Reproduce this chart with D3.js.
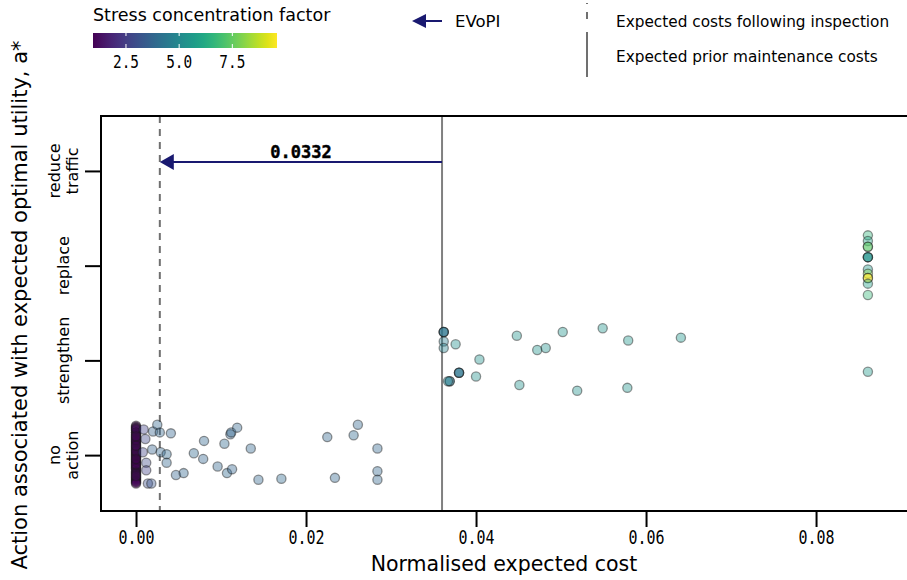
<!DOCTYPE html>
<html><head><meta charset="utf-8">
<script src="https://cdn.jsdelivr.net/npm/d3@7"></script>
<style>body{margin:0;background:#fff} svg{display:block}</style>
</head><body><svg id="c" width="907" height="580"></svg>
<script>
// ---------- data ----------
const categories = [["no","action"],["strengthen"],["replace"],["reduce","traffic"]];
const xTicks = [0, 0.02, 0.04, 0.06, 0.08];
const xTickLabels = ["0.00","0.02","0.04","0.06","0.08"];
const scfTicks = [2.5, 5.0, 7.5];
const scfTickLabels = ["2.5","5.0","7.5"];
const scfRange = [0.95, 9.6];
const priorCost = 0.0360;    // expected prior maintenance costs
const postCost = 0.0028;     // expected costs following inspection
const evopiLabel = "0.0332";
const evopiLevel = 3.095;

// "no action" – dense column at zero cost
const zeroJitter = [0.31,0.30,0.29,0.27,0.26,0.24,0.24,0.22,0.21,0.19,0.18,0.17,0.15,0.14,0.13,0.12,0.11,0.09,0.08,0.07,0.06,0.05,0.03,0.02,0.01,0.00,-0.01,-0.02,-0.03,-0.05,-0.06,-0.07,-0.08,-0.09,-0.11,-0.12,-0.13,-0.14,-0.15,-0.17,-0.18,-0.19,-0.20,-0.21,-0.23,-0.24,-0.25,-0.26,-0.27,-0.28,-0.29,-0.30,0.28,0.16,0.04,-0.10,-0.22,0.10,-0.04,0.20];
const zeroScf    = [1.1,1.0,1.2,1.0,1.3,1.1,1.0,1.2,1.1,1.4,1.0,1.1,1.2,1.0,1.3,1.1,1.0,1.2,1.1,1.0,1.3,1.2,1.0,1.1,1.2,1.0,1.4,1.1,1.0,1.2,1.1,1.0,1.2,1.1,1.0,1.3,1.1,1.0,1.2,1.1,1.0,1.2,1.3,1.0,1.1,1.0,1.2,1.1,1.0,1.3,1.1,1.0,1.2,1.0,1.1,1.0,1.2,1.1,1.0,1.1];

// "no action" – scattered
const noActCost   = [0.0009,0.0011,0.0008,0.0012,0.0012,0.0014,0.0018,0.0020,0.0025,0.0028,0.0041,0.0019,0.0029,0.0036,0.0036,0.0047,0.0056,0.0068,0.0080,0.0079,0.0096,0.0104,0.0111,0.0112,0.0119,0.0107,0.0113,0.0135,0.0144,0.0171,0.0225,0.0234,0.0256,0.0261,0.0284,0.0284,0.0284];
const noActJitter = [0.27,0.17,0.03,-0.08,-0.16,-0.30,-0.30,0.25,0.32,0.24,0.23,0.06,0.03,0.01,-0.08,-0.21,-0.19,0.02,0.15,-0.04,-0.12,0.12,0.22,0.24,0.29,-0.19,-0.15,0.07,-0.26,-0.25,0.19,-0.24,0.21,0.32,0.07,-0.17,-0.26];
const noActScf    = [2.6,2.8,2.7,2.9,2.6,3.0,3.2,3.6,3.8,3.8,3.7,3.6,3.8,3.9,3.8,3.7,3.8,3.9,3.8,3.7,3.8,3.9,3.7,3.8,3.8,3.9,3.7,3.8,3.8,3.9,3.8,3.8,3.9,3.8,3.8,3.8,3.8];

// "strengthen"
const strCost   = [0.0362,0.0362,0.0362,0.0362,0.0362,0.0376,0.0404,0.0380,0.0380,0.0380,0.0369,0.0369,0.0367,0.0400,0.0448,0.0451,0.0472,0.0482,0.0502,0.0519,0.0549,0.0579,0.0578,0.0641,0.0861];
const strJitter = [0.30,0.30,0.30,0.20,0.13,0.17,0.01,-0.13,-0.13,-0.13,-0.22,-0.22,-0.22,-0.17,0.26,-0.26,0.11,0.13,0.30,-0.32,0.34,0.21,-0.29,0.24,-0.12];
const strScf    = [4.3,4.2,4.4,4.6,4.8,5.2,5.3,4.3,4.4,4.2,4.3,4.4,4.9,5.3,5.4,5.3,5.4,5.3,5.4,5.3,5.4,5.5,5.4,5.5,5.6];

// "replace"
const repCost   = [0.0861,0.0861,0.0861,0.0861,0.0861,0.0861,0.0861,0.0861,0.0861,0.0861,0.0861,0.0861,0.0861];
const repJitter = [0.32,0.26,0.20,0.20,0.09,0.09,0.09,-0.04,-0.085,-0.13,-0.13,-0.19,-0.31];
const repScf    = [6.6,6.0,7.5,7.3,5.4,5.6,5.2,5.6,8.0,9.6,9.4,5.9,6.7];

// ---------- layout ----------
const svg = d3.select("#c");
const L = 101, R = 907, T = 116, B = 511;
const font = "'DejaVu Sans', sans-serif";
const mono = "'DejaVu Sans Mono', monospace";
const navy = "#191970";

const x = d3.scaleLinear().domain([-0.00412, 0.09070]).range([L, R]);
const y = d3.scaleLinear().domain([-0.59, 3.58]).range([B, T]);
const color = d3.scaleSequential(d3.interpolateViridis).domain(scfRange);

// points
const pts = [];
zeroJitter.forEach((j,i)=>pts.push({c:0, a:0, j, s:zeroScf[i]}));
noActCost.forEach((c,i)=>pts.push({c, a:0, j:noActJitter[i], s:noActScf[i]}));
strCost.forEach((c,i)=>pts.push({c, a:1, j:strJitter[i], s:strScf[i]}));
repCost.forEach((c,i)=>pts.push({c, a:2, j:repJitter[i], s:repScf[i]}));

// reference lines
svg.append("line").attr("x1",x(postCost)).attr("x2",x(postCost)).attr("y1",T).attr("y2",B)
  .attr("stroke","#707070").attr("stroke-width",2).attr("stroke-dasharray","7,6");
svg.append("line").attr("x1",x(priorCost)).attr("x2",x(priorCost)).attr("y1",T).attr("y2",B)
  .attr("stroke","#808080").attr("stroke-width",2);

// scatter
svg.append("g").selectAll("circle").data(pts).join("circle")
  .attr("cx",d=>x(d.c)).attr("cy",d=>y(d.a+d.j)).attr("r",4.6)
  .attr("fill",d=>color(d.s)).attr("fill-opacity",0.4)
  .attr("stroke","#1a1a1a").attr("stroke-opacity",0.45).attr("stroke-width",1.3);

// EVoPI arrow
function arrow(g, x0, x1, yy, hl, hw, sw){
  g.append("line").attr("x1",x0).attr("x2",x1+hl-1).attr("y1",yy).attr("y2",yy)
    .attr("stroke",navy).attr("stroke-width",sw);
  g.append("path").attr("d",`M${x1},${yy}L${x1+hl},${yy-hw}L${x1+hl},${yy+hw}Z`).attr("fill",navy);
}
arrow(svg, x(priorCost), x(postCost), y(evopiLevel), 14, 8, 2);
svg.append("text").attr("x",(x(priorCost)+x(postCost))/2).attr("y",y(evopiLevel)-4)
  .attr("text-anchor","middle").attr("font-family",mono).attr("font-weight","bold")
  .attr("font-size",17).attr("fill","#000").attr("stroke","#000").attr("stroke-width",0.4)
  .text(evopiLabel);

// spines
svg.append("path").attr("d",`M${R+2},${T}H${L}V${B}H${R+2}`).attr("fill","none")
  .attr("stroke","#000").attr("stroke-width",2);

// x axis
const xa = svg.append("g").attr("transform",`translate(0,${B})`)
  .call(d3.axisBottom(x).tickValues(xTicks).tickSize(16).tickFormat((d,i)=>xTickLabels[i]));
xa.select(".domain").remove();
xa.selectAll(".tick line").attr("stroke","#000").attr("stroke-width",2);
xa.selectAll(".tick text").attr("font-family",mono).attr("font-size",20).attr("fill","#000")
  .attr("y",18).attr("dy","0.75em").attr("transform","scale(0.75,1)");
svg.append("text").attr("x",(L+R)/2).attr("y",571).attr("text-anchor","middle")
  .attr("font-family",font).attr("font-size",20.5).text("Normalised expected cost");

// y axis
const ya = svg.append("g").attr("transform",`translate(${L},0)`)
  .call(d3.axisLeft(y).tickValues([0,1,2,3]).tickSize(16).tickFormat(""));
ya.select(".domain").remove();
ya.selectAll(".tick line").attr("stroke","#000").attr("stroke-width",2);
categories.forEach((lines,i)=>{
  const t = svg.append("text").attr("transform",`translate(63,${y(i)}) rotate(-90)`)
    .attr("text-anchor","middle").attr("font-family",font).attr("font-size",16);
  const n = lines.length;
  lines.forEach((s,k)=>t.append("tspan").attr("x",0)
    .attr("y", (k-(n-1)/2)*18).attr("dy","0.35em").text(s));
});
svg.append("text").attr("transform",`translate(27,305) rotate(-90)`).attr("text-anchor","middle")
  .attr("font-family",font).attr("font-size",21).text("Action associated with expected optimal utility, a*");

// colour bar
const cbL = 93, cbR = 277, cbT = 33, cbB = 48;
const cx = d3.scaleLinear().domain(scfRange).range([cbL, cbR]);
const grad = svg.append("defs").append("linearGradient").attr("id","vir");
d3.range(0,1.0001,0.05).forEach(t=>grad.append("stop").attr("offset",t).attr("stop-color",d3.interpolateViridis(t)));
svg.append("rect").attr("x",cbL).attr("y",cbT).attr("width",cbR-cbL).attr("height",cbB-cbT).attr("fill","url(#vir)");
scfTicks.forEach((v,i)=>{
  svg.append("line").attr("x1",cx(v)).attr("x2",cx(v)).attr("y1",cbT).attr("y2",cbT+3).attr("stroke","#fff").attr("stroke-width",1);
  svg.append("line").attr("x1",cx(v)).attr("x2",cx(v)).attr("y1",cbB-4).attr("y2",cbB).attr("stroke","#fff").attr("stroke-width",1);
  svg.append("text").attr("transform",`translate(${cx(v)},68) scale(0.8,1)`).attr("text-anchor","middle")
    .attr("font-family",mono).attr("font-size",18).text(scfTickLabels[i]);
});
svg.append("text").attr("x",cbL).attr("y",21).attr("font-family",font).attr("font-size",17.5).text("Stress concentration factor");

// legend
arrow(svg, 442, 412, 21, 14, 7, 2);
svg.append("text").attr("x",455).attr("y",27).attr("font-family",font).attr("font-size",16.5).text("EVoPI");
svg.append("line").attr("x1",587).attr("x2",587).attr("y1",3).attr("y2",19)
  .attr("stroke","#707070").attr("stroke-width",2).attr("stroke-dasharray","1,8,8");
svg.append("line").attr("x1",587).attr("x2",587).attr("y1",32).attr("y2",77)
  .attr("stroke","#707070").attr("stroke-width",2);
svg.append("text").attr("x",616).attr("y",27).attr("font-family",font).attr("font-size",15.3).text("Expected costs following inspection");
svg.append("text").attr("x",616).attr("y",62).attr("font-family",font).attr("font-size",15.3).text("Expected prior maintenance costs");
</script></body></html>
